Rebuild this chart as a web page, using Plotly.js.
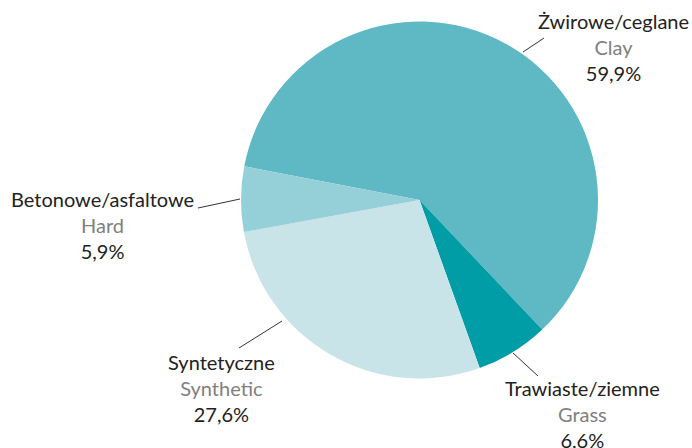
<!DOCTYPE html>
<html>
<head>
<meta charset="utf-8">
<script src="https://cdn.plot.ly/plotly-3.0.1.min.js"></script>
<style>html,body{margin:0;padding:0;background:#fff}#chart{width:692px;height:448px}</style>
</head>
<body>
<div id="chart"></div>
<script>
const namesPL = ['Żwirowe/ceglane', 'Trawiaste/ziemne', 'Syntetyczne', 'Betonowe/asfaltowe'];
const namesEN = ['Clay', 'Grass', 'Synthetic', 'Hard'];
const values = [59.9, 6.6, 27.6, 5.9];
const percentLabels = ['59,9%', '6,6%', '27,6%', '5,9%'];
const colors = ['#5eb9c4', '#009da7', '#c9e4e9', '#95cfd7'];

const W = 692, H = 448;
const px = x => x / W;
const py = y => 1 - y / H;

// label layout (pixel positions: center x, top y)
const labelPos = [[613, 7], [582, 374], [222, 348], [102, 185]];
// leader lines: [x0,y0,x1,y1] in pixels
const leaders = [[523, 52, 544, 38], [513, 353, 538, 376], [239, 348, 282, 321], [198, 208, 240, 199]];

const FONT = 'Lato, "Open Sans", sans-serif';

const annotations = namesPL.map((n, i) => ({
  xref: 'paper', yref: 'paper',
  x: px(labelPos[i][0]), y: py(labelPos[i][1]),
  xanchor: 'center', yanchor: 'top',
  showarrow: false, align: 'center',
  text: n + '<br><span style="color:#7f7f7f">' + namesEN[i] + '</span><br>' + percentLabels[i],
  font: {family: FONT, size: 20, color: '#222222'}
}));

const shapes = leaders.map(l => ({
  type: 'line', xref: 'paper', yref: 'paper',
  x0: px(l[0]), y0: py(l[1]), x1: px(l[2]), y1: py(l[3]),
  line: {color: '#333333', width: 1}
}));

const trace = {
  type: 'pie',
  labels: namesEN,
  values: values,
  sort: false,
  direction: 'clockwise',
  rotation: -79.1,
  marker: {colors: colors, line: {width: 0}},
  textinfo: 'none',
  hoverinfo: 'none',
  domain: {x: [241 / W, 598 / W], y: [1 - 378.5 / H, 1 - 21.5 / H]}
};

Plotly.newPlot('chart', [trace], {
  width: W, height: H,
  margin: {l: 0, r: 0, t: 0, b: 0},
  showlegend: false,
  paper_bgcolor: '#ffffff',
  annotations: annotations,
  shapes: shapes
}, {staticPlot: true});
</script>
</body>
</html>
